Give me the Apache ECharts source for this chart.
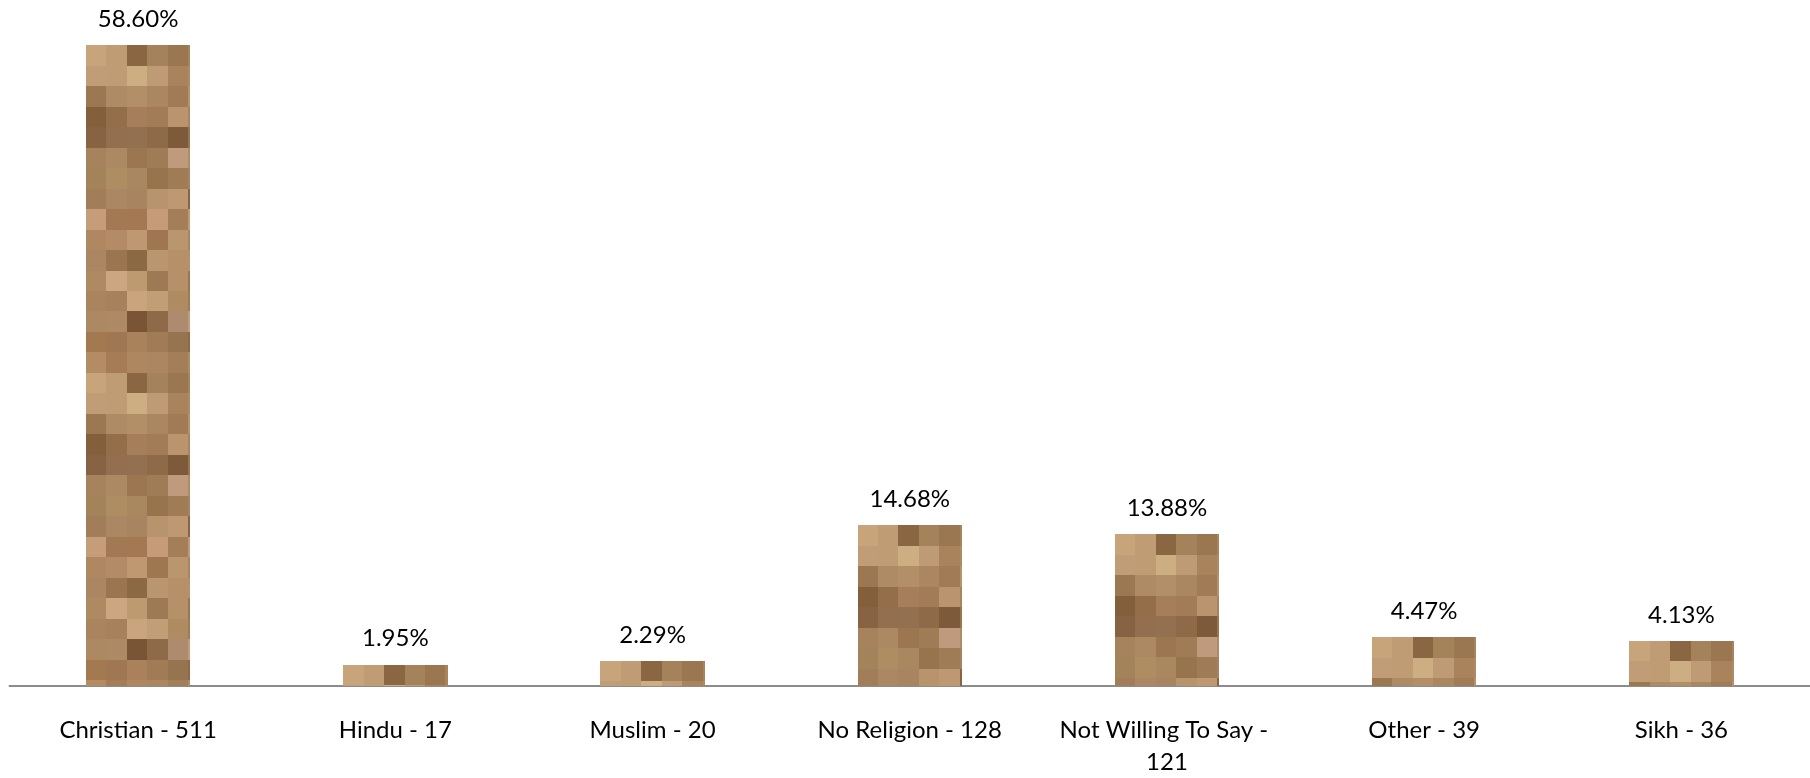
<!DOCTYPE html>
<html>
<head>
<meta charset="utf-8">
<title>Religion</title>
<script src="https://cdn.jsdelivr.net/npm/echarts@6/dist/echarts.min.js"></script>
<style>
  html, body { margin: 0; padding: 0; background: #ffffff; }
  #chart { width: 1810px; height: 778px; }
</style>
</head>
<body>
<div id="chart"></div>
<script>
// Respondents by religion
const religions = ['Christian', 'Hindu', 'Muslim', 'No Religion', 'Not Willing To Say', 'Other', 'Sikh'];
const counts = [511, 17, 20, 128, 121, 39, 36];
const percentages = [58.60, 1.95, 2.29, 14.68, 13.88, 4.47, 4.13];

const categoryLabels = religions.map((r, i) => r + ' - ' + counts[i]);

// Tan mosaic swatches used to fill the bars (16 rows x 6 columns, repeating downward)
const MOSAIC = [
  ['#c8a47a', '#bf9c74', '#8a6642', '#a5835a', '#9a7750', '#a8845c'],
  ['#c09d76', '#bf9c74', '#cdad82', '#be9b74', '#a8835c', '#b08a62'],
  ['#9c7852', '#af8b65', '#b38f68', '#ab8761', '#a07b55', '#b89268'],
  ['#845f3b', '#936e48', '#a67f5a', '#a27c57', '#b9946d', '#a88460'],
  ['#876343', '#936f4f', '#93704f', '#8e6a49', '#7d5a3a', '#9a7550'],
  ['#a7835d', '#ad8963', '#9b7650', '#a07c56', '#bf9a7c', '#b08b66'],
  ['#a3845a', '#ae8d63', '#a9875f', '#98744d', '#a07c56', '#a58360'],
  ['#a27d59', '#ac8763', '#a88460', '#b8946d', '#bd9872', '#8a6440'],
  ['#c59d78', '#a27952', '#a37852', '#c59c77', '#a47e59', '#be9a75'],
  ['#af8862', '#b38c67', '#bf9771', '#9e7751', '#ba966f', '#a98560'],
  ['#aa8762', '#9a7550', '#8b6942', '#ba966e', '#b69068', '#b69068'],
  ['#ae8a63', '#cba680', '#be9a71', '#9e7a54', '#b69068', '#9a7550'],
  ['#a9845d', '#a6815b', '#c9a47c', '#c29e76', '#ae8b61', '#a07b55'],
  ['#ac8863', '#ae8a64', '#7a5535', '#8e6a48', '#ae8a6e', '#c09c78'],
  ['#a37a50', '#a07753', '#a9825c', '#a07b55', '#977450', '#8e6a45'],
  ['#b48c64', '#a67c57', '#ae8761', '#ac8661', '#a27e59', '#b08b66']
];
const BAR_RATIO = 0.406;     // bar width as a share of the category band
const CELLS_ACROSS = 5.1;    // mosaic cells across one bar

const FONT = 'Lato, "Noto Sans", sans-serif';

const chart = echarts.init(document.getElementById('chart'), null, { renderer: 'canvas' });

function renderMosaicBar(params, api) {
  const idx = api.value(0);
  const val = api.value(1);
  const topPt = api.coord([idx, val]);
  const basePt = api.coord([idx, 0]);
  const barW = api.size([1, 0])[0] * BAR_RATIO;
  const left = topPt[0] - barW / 2;
  const right = left + barW;
  const cell = barW / CELLS_ACROSS;
  const children = [];
  for (let r = 0; ; r++) {
    const y0 = Math.round(topPt[1] + r * cell);
    if (y0 >= basePt[1]) break;
    const y1 = Math.min(Math.round(topPt[1] + (r + 1) * cell), Math.round(basePt[1]));
    const row = MOSAIC[r % MOSAIC.length];
    for (let c = 0; c < row.length; c++) {
      const x0 = Math.round(left + c * cell);
      const x1 = Math.min(Math.round(left + (c + 1) * cell), Math.round(right));
      if (x1 <= x0) break;
      children.push({
        type: 'rect',
        shape: { x: x0, y: y0, width: x1 - x0, height: y1 - y0 },
        style: { fill: row[c] }
      });
    }
  }
  return { type: 'group', children: children };
}

chart.setOption({
  animation: false,
  backgroundColor: '#ffffff',
  grid: { left: 9.5, right: -4, top: 30, bottom: 87, containLabel: false },
  xAxis: {
    type: 'category',
    data: categoryLabels,
    axisLine: { show: true, lineStyle: { color: '#8c8c8c', width: 2 } },
    axisTick: { show: false },
    axisLabel: {
      interval: 0,
      margin: 28,
      color: '#000000',
      fontFamily: FONT,
      fontSize: 24,
      lineHeight: 32,
      width: 240,
      overflow: 'break',
      verticalAlign: 'top'
    }
  },
  yAxis: {
    type: 'value',
    min: 0,
    max: 60,
    show: false,
    splitLine: { show: false }
  },
  series: [
    {
      type: 'custom',
      renderItem: renderMosaicBar,
      data: percentages.map((v, i) => [i, v]),
      encode: { x: 0, y: 1 },
      z: 2
    },
    {
      type: 'bar',
      data: percentages,
      barWidth: (BAR_RATIO * 100) + '%',
      itemStyle: { color: 'rgba(0,0,0,0)' },
      label: {
        show: true,
        position: 'top',
        distance: 14,
        color: '#000000',
        fontFamily: FONT,
        fontSize: 24,
        formatter: p => p.value.toFixed(2) + '%'
      },
      z: 3
    }
  ]
});
</script>
</body>
</html>
